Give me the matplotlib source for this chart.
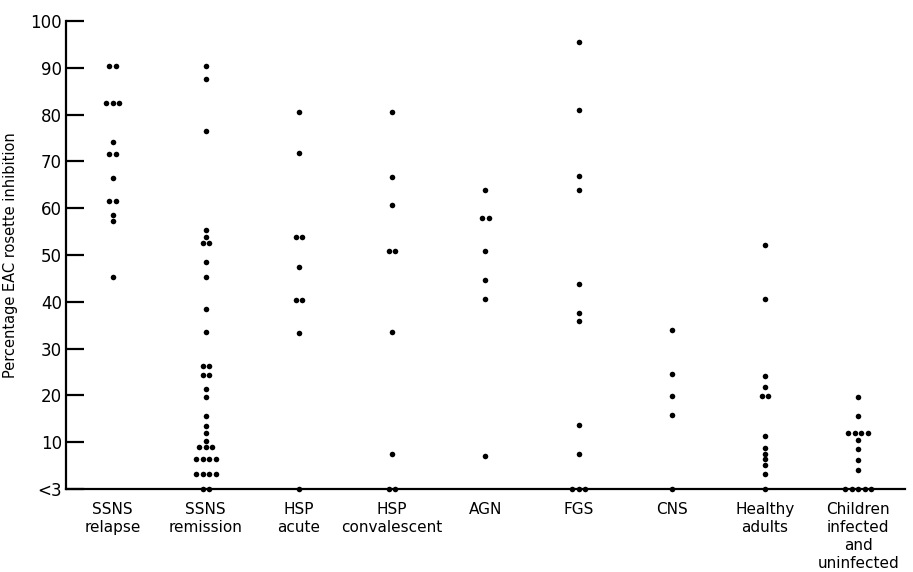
from collections import Counter
import matplotlib
matplotlib.use('Agg')
import matplotlib.pyplot as plt

# groups along the x axis
groups = ['SSNS\nrelapse', 'SSNS\nremission', 'HSP\nacute', 'HSP\nconvalescent',
          'AGN', 'FGS', 'CNS', 'Healthy\nadults',
          'Children\ninfected\nand\nuninfected']

# percentage EAC rosette inhibition per patient, 0 means "<3"
ssns_relapse = [90.4, 90.4, 82.4, 82.4, 82.4, 74.1, 71.6, 71.6, 66.4,
                61.5, 61.5, 58.5, 57.3, 45.4]
ssns_remission = [90.4, 87.5, 76.4, 55.3, 53.8, 52.5, 52.5, 48.4, 45.4,
                  38.5, 33.5, 26.2, 26.2, 24.3, 24.3, 21.4, 19.6, 15.6,
                  13.5, 12.0, 10.3, 9.0, 9.0, 9.0, 6.4, 6.4, 6.4, 6.4,
                  3.3, 3.3, 3.3, 3.3, 0, 0]
hsp_acute = [80.6, 71.7, 53.8, 53.8, 47.5, 40.4, 40.4, 33.3, 0]
hsp_convalescent = [80.6, 66.6, 60.7, 50.9, 50.9, 33.6, 7.5, 0, 0]
agn = [63.9, 57.8, 57.8, 50.9, 44.6, 40.6, 7.1]
fgs = [95.6, 80.9, 66.9, 63.8, 43.7, 37.7, 35.8, 13.7, 7.5, 0, 0, 0]
cns = [33.9, 24.6, 19.9, 15.9, 0]
healthy_adults = [52.1, 40.7, 24.2, 21.7, 19.9, 19.9, 11.4, 8.7, 7.5, 6.4,
                  5.1, 3.1, 0]
children = [19.7, 15.5, 11.9, 11.9, 11.9, 11.9, 10.5, 8.5, 6.3, 4.1,
            0, 0, 0, 0, 0]

series = [ssns_relapse, ssns_remission, hsp_acute, hsp_convalescent, agn,
          fgs, cns, healthy_adults, children]

yticks = [0, 10, 20, 30, 40, 50, 60, 70, 80, 90, 100]
ytick_labels = ['<3', '10', '20', '30', '40', '50', '60', '70', '80', '90', '100']

DX = 0.07  # horizontal gap between tied values

fig = plt.figure(figsize=(9.13, 5.72), dpi=100)
ax = fig.add_axes([0.0723, 0.1451, 0.9187, 0.8182])

for i, vals in enumerate(series, start=1):
    counts = Counter(vals)
    xs, ys = [], []
    for v, n in counts.items():
        for k in range(n):
            xs.append(i + (k - (n - 1) / 2) * DX)
            ys.append(v)
    ax.plot(xs, ys, 'o', color='black', ms=4, mew=0, clip_on=False, zorder=3)

ax.set_xlim(0.5, 9.5)
ax.set_ylim(0, 100)

ax.set_xticks(range(1, len(groups) + 1))
ax.set_xticklabels(groups, fontsize=11, linespacing=1.25, va='top')
ax.tick_params(axis='x', length=0, pad=9)

ax.set_yticks(yticks)
ax.set_yticklabels(ytick_labels, fontsize=12)
ax.tick_params(axis='y', direction='in', length=13, width=1.6, pad=3)

for side in ('top', 'right'):
    ax.spines[side].set_visible(False)
for side in ('left', 'bottom'):
    ax.spines[side].set_linewidth(1.6)

ax.set_ylabel('Percentage EAC rosette inhibition', fontsize=10.5)
ax.yaxis.set_label_coords(-0.057, 0.5)

fig.savefig('out.png', dpi=100)
